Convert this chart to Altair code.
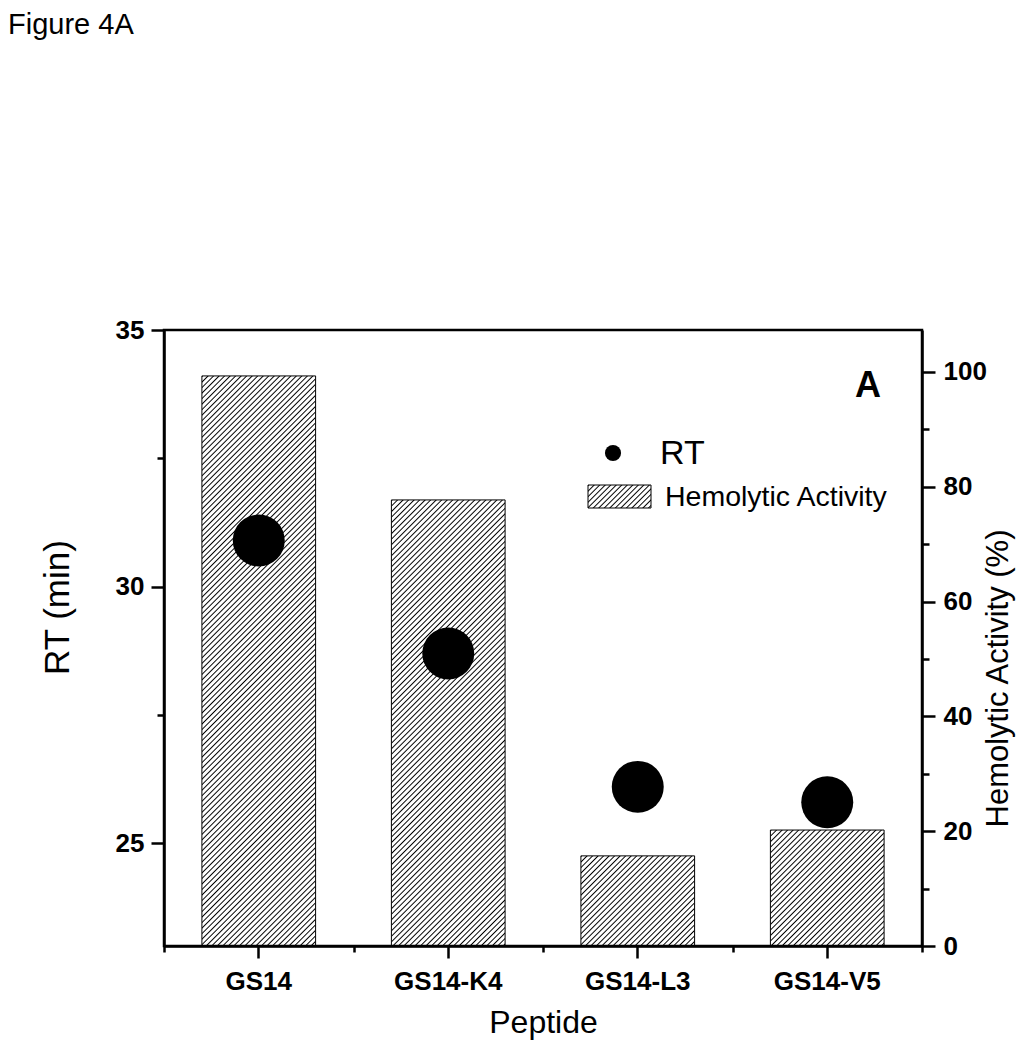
import base64
import altair as alt
import pandas as pd

# ---- data ----
peptides = ["GS14", "GS14-K4", "GS14-L3", "GS14-V5"]
rt_min = [30.9, 28.7, 26.1, 25.8]
hemolytic = [99.3, 77.7, 15.7, 20.2]

rt_ticks = [25, 27.5, 30, 32.5, 35]
hem_ticks = [0, 10, 20, 30, 40, 50, 60, 70, 80, 90, 100]
x_minor_ticks = [0, 1, 2, 3, 4]

legend_labels = ["RT", "Hemolytic Activity"]
panel_letter = ["A"]
figure_title = ["Figure 4A"]

df = pd.DataFrame({"Peptide": peptides, "RT": rt_min, "Hemolytic": hemolytic})

FONT = "Liberation Sans"
BLACK = "black"

hatch_svg = (
    "<svg xmlns='http://www.w3.org/2000/svg' width='100%' height='100%'>"
    "<defs><pattern id='h' patternUnits='userSpaceOnUse' width='3.9' height='3.9' "
    "patternTransform='rotate(45)'>"
    "<line x1='0' y1='-1' x2='0' y2='5' stroke='black' stroke-width='1.15' "
    "shape-rendering='crispEdges'/>"
    "</pattern></defs>"
    "<rect width='100%' height='100%' fill='url(#h)'/></svg>"
)
HATCH = "data:image/svg+xml;base64," + base64.b64encode(hatch_svg.encode()).decode()

axis_common = dict(
    labelFont=FONT, labelFontSize=26, labelFontWeight="bold", labelColor=BLACK,
    titleFont=FONT, titleFontSize=32, titleFontWeight="normal", titleColor=BLACK,
    domainColor=BLACK, domainWidth=2.5, tickColor=BLACK, tickWidth=2.5, grid=False,
)

x_enc = alt.X(
    "Peptide:N", sort=peptides,
    scale=alt.Scale(paddingInner=0.4, paddingOuter=0.2),
    axis=alt.Axis(title="Peptide", labelAngle=0, labelPadding=10, tickSize=12,
                  titlePadding=13, **axis_common),
)

hem_axis_style = dict(axis_common)
hem_axis_style["titleFontSize"] = 31

y_hem = alt.Y(
    "Hemolytic:Q",
    scale=alt.Scale(domain=[0, 107.3], nice=False, zero=True),
    axis=alt.Axis(
        orient="right", values=hem_ticks, title="Hemolytic Activity (%)",
        labelExpr="datum.value % 20 === 0 ? datum.label : ''",
        tickSize={"condition": {"test": "datum.value % 20 === 0", "value": 13}, "value": 7},
        labelPadding=8, titleAngle=270, titleBaseline="top", titlePadding=-3,
        titleY=348, **hem_axis_style),
)

rt_axis_style = dict(axis_common)
rt_axis_style["titleFontSize"] = 35

y_rt = alt.Y(
    "RT:Q",
    scale=alt.Scale(domain=[23, 35], nice=False, zero=False),
    axis=alt.Axis(
        orient="left", values=rt_ticks, title="RT (min)",
        labelExpr="datum.value % 5 === 0 ? datum.label : ''",
        tickSize={"condition": {"test": "datum.value % 5 === 0", "value": 13}, "value": 7},
        labelPadding=7, titlePadding=40, titleY=277, **rt_axis_style),
)

hatch = alt.Chart(df).mark_image(aspect=False).encode(
    x=x_enc, y=y_hem, y2=alt.datum(0), url=alt.value(HATCH)
)
outline = alt.Chart(df).mark_bar(fillOpacity=0, stroke=BLACK, strokeWidth=1).encode(
    x=x_enc, y=y_hem
)
bars = alt.layer(hatch, outline)

points = alt.Chart(df).mark_circle(size=2700, color=BLACK, opacity=1).encode(
    x=x_enc, y=y_rt
)

main = alt.layer(bars, points).resolve_scale(y="independent")

minor_x = alt.Chart(pd.DataFrame({"b": x_minor_ticks})).mark_tick(opacity=0).encode(
    x=alt.X("b:Q", scale=alt.Scale(domain=[0, 4], nice=False, zero=True),
            axis=alt.Axis(orient="bottom", values=x_minor_ticks, labels=False,
                          domain=False, grid=False, title=None, tickSize=6,
                          tickWidth=2.5, tickColor=BLACK))
)

# annotations: panel letter, legend, figure label
letter = alt.Chart(pd.DataFrame({"t": panel_letter})).mark_text(
    font=FONT, fontSize=36, fontWeight="bold", color=BLACK, align="center", baseline="middle"
).encode(text="t:N", x=alt.value(704), y=alt.value(56))

leg_dot = alt.Chart(pd.DataFrame({"t": legend_labels[:1]})).mark_circle(
    size=260, color=BLACK, opacity=1
).encode(x=alt.value(449), y=alt.value(123))

leg_rt = alt.Chart(pd.DataFrame({"t": legend_labels[:1]})).mark_text(
    font=FONT, fontSize=34, color=BLACK, align="left", baseline="middle"
).encode(text="t:N", x=alt.value(496), y=alt.value(124))

leg_box = alt.Chart(pd.DataFrame({"t": legend_labels[1:]})).mark_image(aspect=False).encode(
    x=alt.value(424), x2=alt.value(487), y=alt.value(155), y2=alt.value(178),
    url=alt.value(HATCH)
)
leg_box_outline = alt.Chart(pd.DataFrame({"t": legend_labels[1:]})).mark_rect(
    fillOpacity=0, stroke=BLACK, strokeWidth=1
).encode(x=alt.value(424), x2=alt.value(487), y=alt.value(155), y2=alt.value(178))

leg_hem = alt.Chart(pd.DataFrame({"t": legend_labels[1:]})).mark_text(
    font=FONT, fontSize=28.5, color=BLACK, align="left", baseline="middle"
).encode(text="t:N", x=alt.value(501), y=alt.value(167))

fig_label = alt.Chart(pd.DataFrame({"t": figure_title})).mark_text(
    font=FONT, fontSize=29, color=BLACK, align="left", baseline="alphabetic"
).encode(text="t:N", x=alt.value(-156), y=alt.value(-296))

chart = alt.layer(
    main, minor_x, letter, leg_dot, leg_rt, leg_box, leg_box_outline, leg_hem, fig_label
).resolve_scale(x="independent").properties(
    width=758, height=616,
    autosize=alt.AutoSizeParams(type="none"),
    padding={"left": 156, "top": 322, "right": 95, "bottom": 96},
    background="white",
).configure_view(stroke=BLACK, strokeWidth=2.5)

chart.save("out.html", embed_options={"renderer": "svg", "actions": False})
